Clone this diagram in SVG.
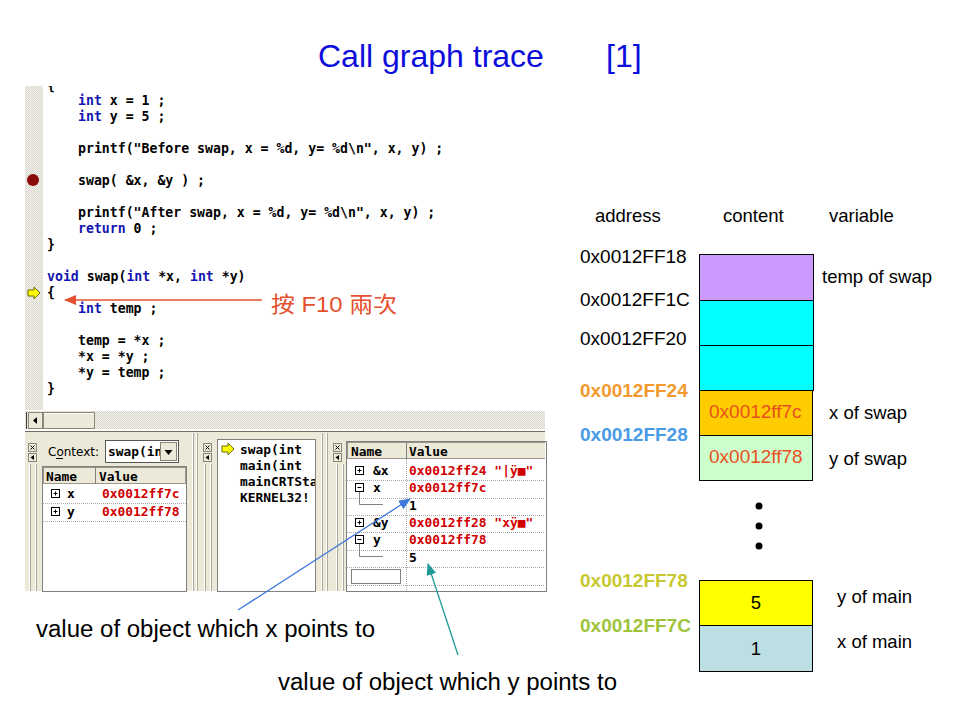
<svg xmlns="http://www.w3.org/2000/svg" width="960" height="720" viewBox="0 0 960 720">
<defs>
<style>
.code{font-family:"DejaVu Sans Mono","Liberation Mono",monospace;font-weight:bold;font-size:13.2px;fill:#000}
.kw{fill:#1414b0}
.dbg{font-family:"DejaVu Sans Mono","Liberation Mono",monospace;font-weight:bold;font-size:12.9px;fill:#000}
.red{fill:#d00000}
.ui{font-family:"DejaVu Sans",Tahoma,sans-serif;font-size:12px;fill:#000}
.lbl{font-family:"Liberation Sans",Arial,sans-serif;font-size:18.5px;fill:#000}
.addr{font-family:"Liberation Sans",Arial,sans-serif;font-size:19px;fill:#000}
.addrb{font-family:"Liberation Sans",Arial,sans-serif;font-size:19px;font-weight:bold}
.note{font-family:"Liberation Sans",Arial,sans-serif;font-size:23px;fill:#000}
.cell{stroke:#000;stroke-width:1}
.dot{stroke:#a8a8a8;stroke-width:1;stroke-dasharray:1,1}
.grip1{stroke:#ffffff;stroke-width:1}
.grip2{stroke:#aca899;stroke-width:1}
.btn{fill:#ece9d8;stroke:#8a877a;stroke-width:1}
.tree{stroke:#808080;stroke-width:1;fill:none}
.box{fill:#fff;stroke:#555;stroke-width:1}
</style>
<pattern id="hatch" width="2" height="2" patternUnits="userSpaceOnUse">
<rect width="2" height="2" fill="#f3f2ec"/>
<rect width="1" height="1" fill="#d9d7cc"/>
<rect x="1" y="1" width="1" height="1" fill="#d9d7cc"/>
</pattern>
<clipPath id="edClip"><rect x="25" y="86" width="520" height="324"/></clipPath>
<clipPath id="p2Clip"><rect x="218" y="440" width="97" height="150"/></clipPath>
<clipPath id="p3Clip"><rect x="347" y="441" width="198" height="149"/></clipPath>
<clipPath id="ddClip"><rect x="106" y="441" width="54" height="20"/></clipPath>
<marker id="arRed" markerWidth="12" markerHeight="10" refX="11" refY="5" orient="auto" markerUnits="userSpaceOnUse"><path d="M0,0 L12,5 L0,10 Z" fill="#e5502e"/></marker>
<marker id="arBlue" markerWidth="12" markerHeight="10" refX="11" refY="5" orient="auto" markerUnits="userSpaceOnUse"><path d="M0,0 L12,5 L0,10 Z" fill="#3c78dc"/></marker>
<marker id="arTeal" markerWidth="12" markerHeight="10" refX="11" refY="5" orient="auto" markerUnits="userSpaceOnUse"><path d="M0,0 L12,5 L0,10 Z" fill="#1f9a96"/></marker>
</defs>
<rect width="960" height="720" fill="#fff"/>

<g id="title">
<text x="318" y="67" font-family="Liberation Sans,Arial,sans-serif" font-size="32" fill="#0d0ddb">Call graph trace</text>
<text x="606" y="67" font-family="Liberation Sans,Arial,sans-serif" font-size="32" fill="#0d0ddb">[1]</text>
</g>

<g id="screenshot">
<!-- editor -->
<g id="editor" clip-path="url(#edClip)">
<rect x="25" y="85" width="520" height="326" fill="#fff"/>
<rect x="25" y="85" width="18" height="326" fill="url(#hatch)"/>
<circle cx="33" cy="180" r="6" fill="#8b0a0a"/>
<path d="M28,290 L34,290 L34,287 L40,293 L34,299 L34,296 L28,296 Z" fill="#ffff00" stroke="#6b6b00" stroke-width="1"/>
<text class="code" x="47" y="90">{</text>
<text class="code" x="78" y="105"><tspan class="kw">int</tspan> x = 1 ;</text>
<text class="code" x="78" y="121"><tspan class="kw">int</tspan> y = 5 ;</text>
<text class="code" x="78" y="153">printf("Before swap, x = %d, y= %d\n", x, y) ;</text>
<text class="code" x="78" y="185">swap( &amp;x, &amp;y ) ;</text>
<text class="code" x="78" y="217">printf("After swap, x = %d, y= %d\n", x, y) ;</text>
<text class="code" x="78" y="233"><tspan class="kw">return</tspan> 0 ;</text>
<text class="code" x="47" y="249">}</text>
<text class="code" x="47" y="281"><tspan class="kw">void</tspan> swap(<tspan class="kw">int</tspan> *x, <tspan class="kw">int</tspan> *y)</text>
<text class="code" x="47" y="297">{</text>
<text class="code" x="78" y="313"><tspan class="kw">int</tspan> temp ;</text>
<text class="code" x="78" y="345">temp = *x ;</text>
<text class="code" x="78" y="361">*x = *y ;</text>
<text class="code" x="78" y="377">*y = temp ;</text>
<text class="code" x="47" y="393">}</text>
</g>
<!-- scrollbar -->
<g id="hscroll">
<rect x="25" y="411" width="520" height="18" fill="url(#hatch)"/>
<line x1="26.5" y1="412" x2="26.5" y2="429" stroke="#404040"/>
<rect x="28.5" y="412.5" width="14" height="16" class="btn"/>
<path d="M33,420.5 L37,417 L37,424 Z" fill="#000"/>
<rect x="43.5" y="412.5" width="51" height="16" class="btn"/>
<line x1="44" y1="413.5" x2="94" y2="413.5" stroke="#fff"/>
</g>
<line x1="25" y1="431.5" x2="545" y2="431.5" stroke="#6f6d64"/>
<rect x="25" y="432" width="520" height="159" fill="#ece9d8"/>

<!-- pane 1: variables -->
<g id="pane-variables">
<rect x="28.5" y="443.5" width="8" height="8" class="btn"/>
<path d="M30.5,445.5 L34.5,449.5 M34.5,445.5 L30.5,449.5" stroke="#000"/>
<rect x="28.5" y="453.5" width="8" height="8" class="btn"/>
<path d="M30.5,457.5 L34,455 L34,460 Z" fill="#000"/>
<line class="grip1" x1="29.5" y1="464" x2="29.5" y2="591"/><line class="grip2" x1="30.5" y1="464" x2="30.5" y2="591"/>
<line class="grip1" x1="35.5" y1="464" x2="35.5" y2="591"/><line class="grip2" x1="36.5" y1="464" x2="36.5" y2="591"/>
<text class="ui" x="48" y="456">Context:</text>
<line x1="56" y1="458.5" x2="63" y2="458.5" stroke="#000"/>
<rect x="105.5" y="440.5" width="73" height="22" class="box"/>
<text class="dbg" x="108" y="456" clip-path="url(#ddClip)">swap(int</text>
<rect x="160.5" y="442.5" width="16" height="18" class="btn"/>
<path d="M164.5,450 L172.5,450 L168.5,455 Z" fill="#000"/>
<rect x="42.5" y="466.5" width="144" height="125" fill="#fff" stroke="#808080"/>
<rect x="43.5" y="467.5" width="142" height="16" fill="#ece9d8" stroke="#9a978a"/>
<line x1="95.5" y1="467" x2="95.5" y2="484" stroke="#808080"/>
<text class="dbg" x="46" y="481">Name</text>
<text class="dbg" x="99" y="481">Value</text>
<rect x="51.5" y="489.5" width="8" height="8" fill="#fff" stroke="#000"/>
<path d="M53.5,493.5 H57.5 M55.5,491.5 V495.5" stroke="#000"/>
<text class="dbg" x="67" y="498">x</text>
<text class="dbg red" x="102" y="498">0x0012ff7c</text>
<line class="dot" x1="43" y1="503.5" x2="186" y2="503.5"/>
<rect x="51.5" y="507.5" width="8" height="8" fill="#fff" stroke="#000"/>
<path d="M53.5,511.5 H57.5 M55.5,509.5 V513.5" stroke="#000"/>
<text class="dbg" x="67" y="516">y</text>
<text class="dbg red" x="102" y="516">0x0012ff78</text>
<line class="dot" x1="43" y1="521.5" x2="186" y2="521.5"/>
<line class="grip1" x1="192.5" y1="433" x2="192.5" y2="591"/><line class="grip2" x1="193.5" y1="433" x2="193.5" y2="591"/>
<line class="grip1" x1="196.5" y1="433" x2="196.5" y2="591"/><line class="grip2" x1="197.5" y1="433" x2="197.5" y2="591"/>
</g>

<!-- pane 2: call stack -->
<g id="pane-callstack">
<rect x="203.5" y="443.5" width="8" height="8" class="btn"/>
<path d="M205.5,445.5 L209.5,449.5 M209.5,445.5 L205.5,449.5" stroke="#000"/>
<rect x="203.5" y="453.5" width="8" height="8" class="btn"/>
<path d="M205.5,457.5 L209,455 L209,460 Z" fill="#000"/>
<line class="grip1" x1="204.5" y1="464" x2="204.5" y2="591"/><line class="grip2" x1="205.5" y1="464" x2="205.5" y2="591"/>
<line class="grip1" x1="210.5" y1="464" x2="210.5" y2="591"/><line class="grip2" x1="211.5" y1="464" x2="211.5" y2="591"/>
<rect x="217.5" y="439.5" width="98" height="152" fill="#fff" stroke="#808080"/>
<path d="M222,446 L228,446 L228,443 L234,449 L228,455 L228,452 L222,452 Z" fill="#ffff00" stroke="#6b6b00" stroke-width="1"/>
<g clip-path="url(#p2Clip)">
<text class="dbg" x="240" y="454">swap(int</text>
<text class="dbg" x="240" y="470">main(int</text>
<text class="dbg" x="240" y="486">mainCRTSta</text>
<text class="dbg" x="240" y="502">KERNEL32!</text>
</g>
<line class="grip1" x1="321.5" y1="433" x2="321.5" y2="591"/><line class="grip2" x1="322.5" y1="433" x2="322.5" y2="591"/>
<line class="grip1" x1="326.5" y1="433" x2="326.5" y2="591"/><line class="grip2" x1="327.5" y1="433" x2="327.5" y2="591"/>
</g>

<!-- pane 3: watch -->
<g id="pane-watch">
<rect x="333.5" y="443.5" width="8" height="8" class="btn"/>
<path d="M335.5,445.5 L339.5,449.5 M339.5,445.5 L335.5,449.5" stroke="#000"/>
<rect x="333.5" y="453.5" width="8" height="8" class="btn"/>
<path d="M335.5,457.5 L339,455 L339,460 Z" fill="#000"/>
<line class="grip1" x1="336.5" y1="464" x2="336.5" y2="591"/><line class="grip2" x1="337.5" y1="464" x2="337.5" y2="591"/>
<line class="grip1" x1="342.5" y1="464" x2="342.5" y2="591"/><line class="grip2" x1="343.5" y1="464" x2="343.5" y2="591"/>
<rect x="346.5" y="441.5" width="200" height="150" fill="#fff" stroke="#808080"/>
<g clip-path="url(#p3Clip)">
<rect x="347.5" y="442.5" width="200" height="16" fill="#ece9d8" stroke="#9a978a"/>
<line x1="406.5" y1="442" x2="406.5" y2="459" stroke="#808080"/>
<line class="dot" x1="406.5" y1="459" x2="406.5" y2="591"/>
<text class="dbg" x="351" y="456">Name</text>
<text class="dbg" x="409" y="456">Value</text>

<rect x="355.5" y="466.5" width="8" height="8" fill="#fff" stroke="#000"/>
<path d="M357.5,470.5 H361.5 M359.5,468.5 V472.5" stroke="#000"/>
<text class="dbg" x="373" y="475">&amp;x</text>
<text class="dbg red" x="409" y="475">0x0012ff24 "|ÿ■"</text>
<line class="dot" x1="347" y1="480.5" x2="545" y2="480.5"/>

<rect x="355.5" y="483.5" width="8" height="8" fill="#fff" stroke="#000"/>
<path d="M357.5,487.5 H361.5" stroke="#000"/>
<text class="dbg" x="373" y="492">x</text>
<text class="dbg red" x="409" y="492">0x0012ff7c</text>
<line class="dot" x1="347" y1="498.5" x2="545" y2="498.5"/>
<path class="tree" d="M359.5,492 V504.5 H383"/>
<text class="dbg" x="409" y="510">1</text>
<line class="dot" x1="347" y1="515.5" x2="545" y2="515.5"/>

<rect x="355.5" y="518.5" width="8" height="8" fill="#fff" stroke="#000"/>
<path d="M357.5,522.5 H361.5 M359.5,520.5 V524.5" stroke="#000"/>
<text class="dbg" x="373" y="527">&amp;y</text>
<text class="dbg red" x="409" y="527">0x0012ff28 "xÿ■"</text>
<line class="dot" x1="347" y1="532.5" x2="545" y2="532.5"/>

<rect x="355.5" y="535.5" width="8" height="8" fill="#fff" stroke="#000"/>
<path d="M357.5,539.5 H361.5" stroke="#000"/>
<text class="dbg" x="373" y="544">y</text>
<text class="dbg red" x="409" y="544">0x0012ff78</text>
<line class="dot" x1="347" y1="550.5" x2="545" y2="550.5"/>
<path class="tree" d="M359.5,544 V556.5 H383"/>
<text class="dbg" x="409" y="562">5</text>
<line class="dot" x1="347" y1="567.5" x2="545" y2="567.5"/>
<rect x="351.5" y="569.5" width="49" height="14" fill="none" stroke="#000" stroke-dasharray="1,1"/>
<line class="dot" x1="347" y1="585.5" x2="545" y2="585.5"/>
</g>
</g>
</g>

<!-- memory diagram -->
<g id="mem-headers">
<text class="lbl" x="595" y="222">address</text>
<text class="lbl" x="723" y="222">content</text>
<text class="lbl" x="829" y="222">variable</text>
</g>
<g id="mem-addresses">
<text class="addr" x="580" y="263">0x0012FF18</text>
<text class="addr" x="580" y="306">0x0012FF1C</text>
<text class="addr" x="580" y="345">0x0012FF20</text>
<text class="addrb" x="580" y="397" fill="#f29a2e">0x0012FF24</text>
<text class="addrb" x="580" y="441" fill="#4a9be6">0x0012FF28</text>
<text class="addrb" x="580" y="587" fill="#c8c830">0x0012FF78</text>
<text class="addrb" x="580" y="632" fill="#9dc43a">0x0012FF7C</text>
</g>
<g id="cell-temp"><rect class="cell" x="699.5" y="254.5" width="114" height="46" fill="#cc99ff"/></g>
<g id="cell-1c"><rect class="cell" x="699.5" y="300.5" width="114" height="45" fill="#00ffff"/></g>
<g id="cell-20"><rect class="cell" x="699.5" y="345.5" width="114" height="45" fill="#00ffff"/></g>
<g id="cell-xswap">
<rect class="cell" x="699.5" y="390.5" width="113" height="45" fill="#ffcc00"/>
<text x="709" y="418" font-family="Liberation Sans,Arial,sans-serif" font-size="19" fill="#e8501e">0x0012ff7c</text>
</g>
<g id="cell-yswap">
<rect class="cell" x="699.5" y="435.5" width="113" height="45" fill="#ccffcc"/>
<text x="709" y="463" font-family="Liberation Sans,Arial,sans-serif" font-size="19" fill="#e8501e">0x0012ff78</text>
</g>
<g id="ellipsis">
<circle cx="759" cy="506" r="3.5" fill="#000"/>
<circle cx="759" cy="526" r="3.5" fill="#000"/>
<circle cx="759" cy="546" r="3.5" fill="#000"/>
</g>
<g id="cell-ymain">
<rect class="cell" x="699.5" y="580.5" width="113" height="45" fill="#ffff00"/>
<text class="lbl" x="756" y="609" text-anchor="middle">5</text>
</g>
<g id="cell-xmain">
<rect class="cell" x="699.5" y="625.5" width="113" height="46" fill="#bcdfe3"/>
<text class="lbl" x="756" y="655" text-anchor="middle">1</text>
</g>
<g id="mem-variables">
<text class="lbl" x="822" y="283">temp of swap</text>
<text class="lbl" x="829" y="419">x of swap</text>
<text class="lbl" x="829" y="465">y of swap</text>
<text class="lbl" x="837" y="603">y of main</text>
<text class="lbl" x="837" y="648">x of main</text>
</g>

<!-- annotations -->
<g id="note-f10"><text x="271" y="312" font-family="Liberation Sans,'Noto Sans CJK TC',sans-serif" font-size="22" fill="#e5502e" textLength="126" lengthAdjust="spacingAndGlyphs">按 F10 兩次</text></g>
<g id="note-x"><text class="note" x="36" y="637" textLength="339" lengthAdjust="spacingAndGlyphs">value of object which x points to</text></g>
<g id="note-y"><text class="note" x="278" y="690" textLength="339" lengthAdjust="spacingAndGlyphs">value of object which y points to</text></g>

<g id="connectors" fill="none" stroke-width="1.3">
<line x1="262" y1="300" x2="65" y2="300" stroke="#e5502e" marker-end="url(#arRed)"/>
<line x1="238" y1="610" x2="410" y2="499" stroke="#3c78dc" marker-end="url(#arBlue)"/>
<line x1="458" y1="655" x2="428" y2="564" stroke="#1f9a96" marker-end="url(#arTeal)"/>
</g>
</svg>
